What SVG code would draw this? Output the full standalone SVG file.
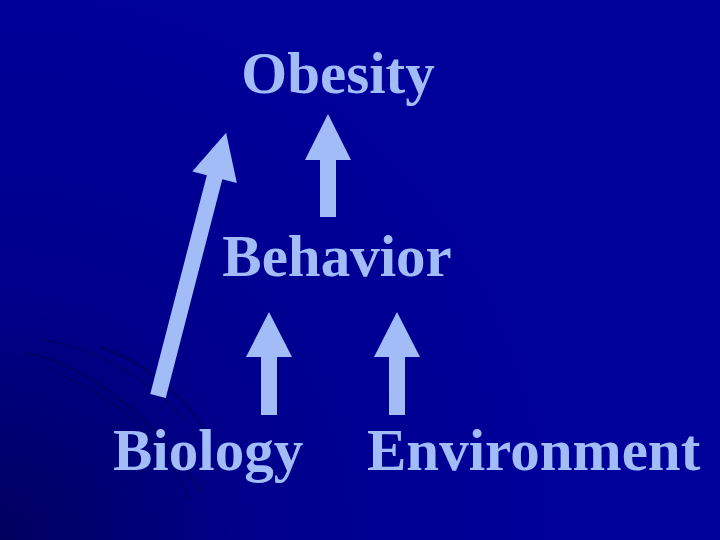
<svg xmlns="http://www.w3.org/2000/svg" width="720" height="540" viewBox="0 0 720 540">
<defs>
<radialGradient id="bg" cx="0" cy="540" r="560" gradientUnits="userSpaceOnUse">
<stop offset="0" stop-color="#00005e"/>
<stop offset="0.45" stop-color="#00008c"/>
<stop offset="1" stop-color="#00009a"/>
</radialGradient>
<style>
.lbl{font-family:"Liberation Serif","Times New Roman",serif;font-weight:bold;font-size:59px;fill:#a2bcf8}
.arr{fill:#a2bcf8}
.sw{fill:none;stroke:#00004a;stroke-opacity:0.45;stroke-linecap:round}
</style>
</defs>
<rect width="720" height="540" fill="url(#bg)"/>
<g id="swooshes">
<path class="sw" stroke-width="2" d="M27,353 C80,365 140,400 200,490"/>
<path class="sw" stroke-width="2.5" d="M100,347 C140,360 180,390 205,430"/>
<path class="sw" stroke-width="1.5" d="M60,375 C110,395 160,430 190,500"/>
<path class="sw" stroke-width="1.5" d="M45,340 C100,350 150,380 185,420"/>
</g>
<g id="connectors">
<path class="arr" d="M320,217 L320,160 L305,160 L328,114 L351,160 L336,160 L336,217 Z"/>
<path class="arr" d="M261,415 L261,357 L246,357 L269,312 L292,357 L277,357 L277,415 Z"/>
<path class="arr" d="M389,415 L389,357 L374,357 L397,312 L420,357 L405,357 L405,415 Z"/>
<g transform="translate(158,396) rotate(14.5)">
<path class="arr" d="M-8,0 L-8,-226 L-23,-226 L0,-272 L23,-226 L8,-226 L8,0 Z"/>
</g>
</g>
<g id="obesity"><text class="lbl" x="338" y="93" text-anchor="middle">Obesity</text></g>
<g id="behavior"><text class="lbl" x="337" y="276" text-anchor="middle">Behavior</text></g>
<g id="biology"><text class="lbl" x="113" y="470">Biology</text></g>
<g id="environment"><text class="lbl" x="367" y="470">Environment</text></g>
</svg>
